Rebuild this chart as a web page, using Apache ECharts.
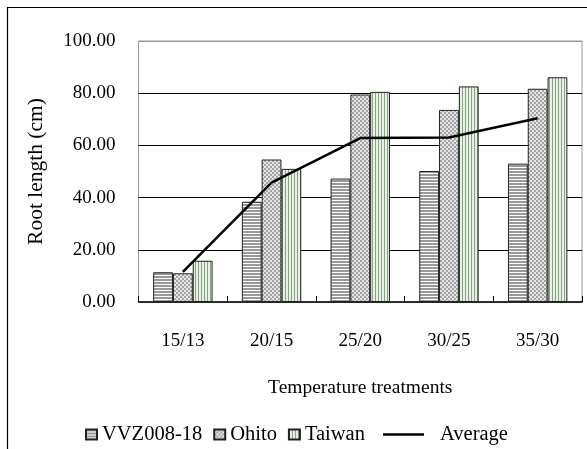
<!DOCTYPE html>
<html><head><meta charset="utf-8">
<script src="https://cdn.jsdelivr.net/npm/echarts@6/dist/echarts.min.js"></script>
<style>html,body{margin:0;padding:0;background:#fff}#c{width:587px;height:449px}</style>
</head><body><div id="c"></div>
<script>
var categories = ['15/13', '20/15', '25/20', '30/25', '35/30'];
var vvz = [11.4, 38.4, 47.3, 50.2, 53.0];
var ohito = [11.0, 54.6, 79.5, 73.6, 81.7];
var taiwan = [15.8, 51.0, 80.5, 82.6, 86.1];
var average = [11.5, 45.7, 62.8, 63.0, 70.4];
var yTicks = [0, 20, 40, 60, 80, 100];

function pattern(w, h, draw) {
  var c = document.createElement('canvas');
  c.width = w; c.height = h;
  var g = c.getContext('2d');
  draw(g);
  return { image: c, repeat: 'repeat' };
}
var pVVZ = pattern(4, 3, function (g) {
  g.fillStyle = '#ffffff'; g.fillRect(0, 0, 4, 3);
  g.fillStyle = '#9a9a9a'; g.fillRect(0, 0, 4, 2);
});
var pOhito = pattern(4, 4, function (g) {
  g.fillStyle = '#e6e6e6'; g.fillRect(0, 0, 4, 4);
  g.fillStyle = '#a4a4a4'; g.fillRect(0, 0, 2, 2); g.fillRect(2, 2, 2, 2);
});
var pTaiwan = pattern(3, 4, function (g) {
  g.fillStyle = '#e9f0e7'; g.fillRect(0, 0, 3, 4);
  g.fillStyle = '#86a580'; g.fillRect(0, 0, 1, 4);
});

var font = 'Liberation Serif';
var chart = echarts.init(document.getElementById('c'), null, { renderer: 'canvas' });
chart.setOption({
  animation: false,
  graphic: [{ type: 'rect', shape: { x: 7.5, y: 7.5, width: 620, height: 500 }, style: { fill: 'none', stroke: '#000', lineWidth: 1.2 }, z: 0 }],
  grid: { left: 138.5, right: 5, top: 41, bottom: 147, show: true, borderColor: '#999', borderWidth: 1, containLabel: false },
  legend: [{
    data: [{ name: 'VVZ008-18', icon: 'rect' }, { name: 'Ohito', icon: 'rect' }, { name: 'Taiwan', icon: 'rect' }],
    left: 85, top: 424, padding: 0, itemWidth: 11, itemHeight: 10, itemGap: 11,
    textStyle: { fontFamily: font, fontSize: 20.5, color: '#000' }
  }, {
    data: [{ name: 'Average', icon: 'rect' }], left: 383, top: 424, padding: 0, itemWidth: 41, itemHeight: 2.5,
    textStyle: { fontFamily: font, fontSize: 20.5, color: '#000', padding: [0, 0, 0, 11] }
  }],
  xAxis: {
    type: 'category', data: categories,
    name: 'Temperature treatments', nameLocation: 'middle', nameGap: 76,
    nameTextStyle: { fontFamily: font, fontSize: 19.5, color: '#000' },
    axisLine: { lineStyle: { color: '#000', width: 1.5 } },
    axisTick: { show: true, inside: true, length: 6, lineStyle: { color: '#000' } },
    axisLabel: { fontFamily: font, fontSize: 19, color: '#000', margin: 30 }
  },
  yAxis: {
    type: 'value', min: 0, max: 100, interval: 20,
    name: 'Root length (cm)', nameLocation: 'middle', nameGap: 91, nameRotate: 90,
    nameTextStyle: { fontFamily: font, fontSize: 21.5, color: '#000' },
    axisLine: { show: false }, axisTick: { show: false },
    splitLine: { lineStyle: { color: ['#999', '#000', '#000', '#000', '#000', '#999'], width: 1 } },
    axisLabel: { fontFamily: font, fontSize: 19, color: '#000', margin: 23,
      formatter: function (v) { return yTicks.indexOf(v) >= 0 ? v.toFixed(2) : ''; } }
  },
  series: [
    { name: 'VVZ008-18', type: 'bar', barWidth: 19.8, barGap: '0%', data: vvz, itemStyle: { color: pVVZ, borderColor: '#222', borderWidth: 1 } },
    { name: 'Ohito', type: 'bar', barWidth: 19.8, barGap: '0%', data: ohito, itemStyle: { color: pOhito, borderColor: '#222', borderWidth: 1 } },
    { name: 'Taiwan', type: 'bar', barWidth: 19.8, barGap: '0%', data: taiwan, itemStyle: { color: pTaiwan, borderColor: '#222', borderWidth: 1 } },
    { name: 'Average', type: 'line', data: average, symbol: 'none', z: 5,
      lineStyle: { color: '#000', width: 2.5 }, itemStyle: { color: '#000', borderWidth: 0 } }
  ]
});
</script></body></html>
